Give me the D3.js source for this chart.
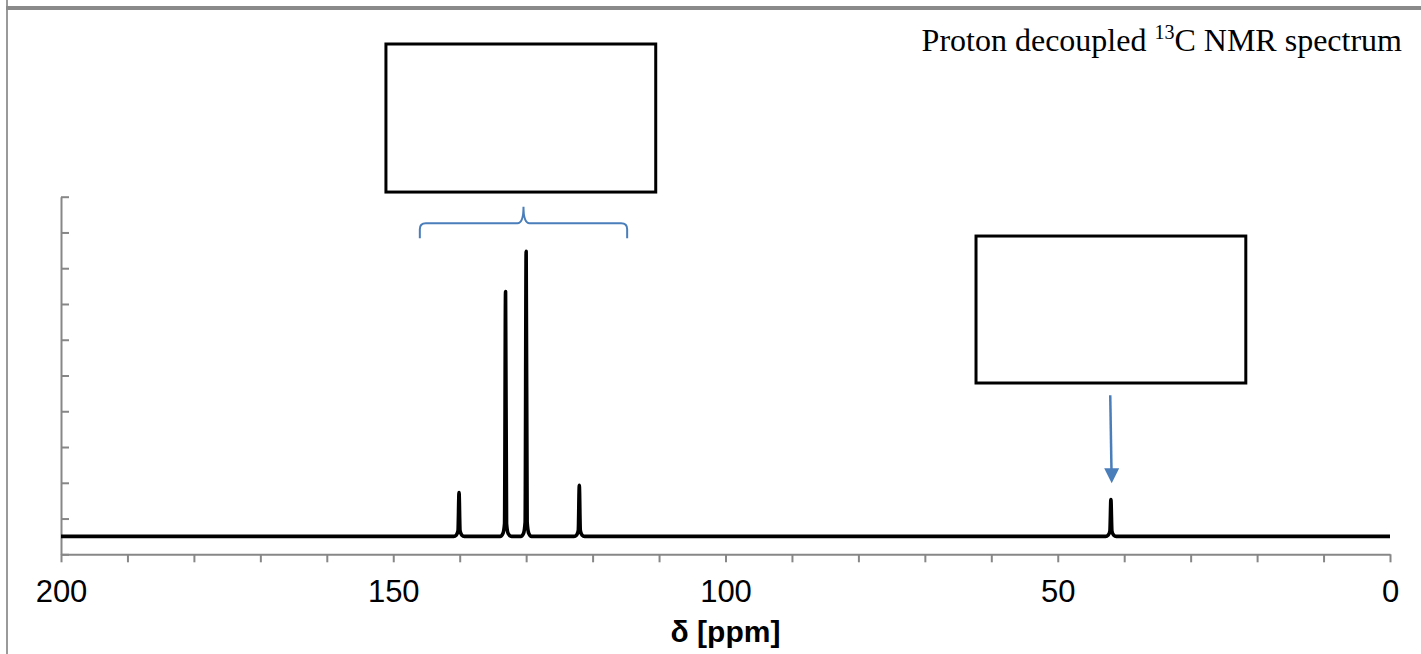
<!DOCTYPE html>
<html>
<head>
<meta charset="utf-8">
<script src="https://cdn.jsdelivr.net/npm/d3@7"></script>
<style>
  html, body { margin: 0; padding: 0; background: #fff; }
  svg { display: block; }
</style>
</head>
<body>
<svg id="chart" width="1421" height="654"></svg>
<script>
// ---- data ----
const shiftPpm = [200,
  140.9, 140.5, 140.25, 140.1, 139.95, 139.7, 139.3,
  133.9, 133.5, 133.25, 133.1, 132.95, 132.7, 132.2,
  130.8, 130.4, 130.15, 130.0, 129.85, 129.6, 129.2,
  122.8, 122.4, 122.15, 122.0, 121.85, 121.6, 121.2,
  42.8, 42.4, 42.15, 42.0, 41.85, 41.6, 41.2,
  0];
const intensity = [0.5,
  0.5, 0.54, 0.66, 1.73, 0.66, 0.54, 0.5,
  0.5, 0.58, 0.86, 7.35, 0.86, 0.58, 0.5,
  0.5, 0.58, 0.9, 8.47, 0.9, 0.58, 0.5,
  0.5, 0.54, 0.67, 1.93, 0.67, 0.54, 0.5,
  0.5, 0.54, 0.65, 1.53, 0.65, 0.54, 0.5,
  0.5];
const xTickValues = [200, 190, 180, 170, 160, 150, 140, 130, 120, 110, 100, 90, 80, 70, 60, 50, 40, 30, 20, 10, 0];
const xTickLabels = ["200", "150", "100", "50", "0"];
const yTickValues = [0, 1, 2, 3, 4, 5, 6, 7, 8, 9, 10];
const titleParts = ["Proton decoupled ", "13", "C NMR spectrum"];
const axisTitle = "δ [ppm]";

// ---- layout ----
const svg = d3.select("#chart");
const x = d3.scaleLinear().domain([200, 0]).range([61, 1390]);
const y = d3.scaleLinear().domain([0, 10]).range([554.3, 196.7]);
const gray = "#878787";
const blue = "#4a7ebb";

// frame lines
svg.append("rect").attr("x", 6).attr("y", 0).attr("width", 2).attr("height", 654).attr("fill", "#9a9a9a");
svg.append("rect").attr("x", 6).attr("y", 6).attr("width", 1415).attr("height", 4).attr("fill", "#8a8a8a");

// y axis (no labels, ticks inside)
const yAxis = svg.append("g").attr("transform", `translate(${x(200)},0)`)
  .call(d3.axisRight(y).tickValues(yTickValues).tickSize(8).tickSizeOuter(0).tickFormat(""));
yAxis.select(".domain").attr("stroke", gray).attr("stroke-width", 2);
yAxis.selectAll(".tick line").attr("stroke", gray).attr("stroke-width", 2);

// x axis
const xAxis = svg.append("g").attr("transform", `translate(0,${y(0)})`)
  .call(d3.axisBottom(x).tickValues(xTickValues).tickSize(8).tickSizeOuter(0).tickPadding(18)
    .tickFormat(d => xTickLabels.includes(String(d)) ? String(d) : ""));
xAxis.select(".domain").attr("stroke", gray).attr("stroke-width", 2);
xAxis.selectAll(".tick line").attr("stroke", gray).attr("stroke-width", 2);
xAxis.selectAll(".tick text")
  .attr("font-family", "'Liberation Sans', Arial, sans-serif")
  .attr("font-size", 31).attr("fill", "#000");

// axis title
svg.append("text")
  .attr("x", (x(200) + x(0)) / 2).attr("y", 642)
  .attr("text-anchor", "middle")
  .attr("font-family", "'Liberation Sans', Arial, sans-serif")
  .attr("font-weight", "bold").attr("font-size", 30).attr("fill", "#000")
  .text(axisTitle);

// spectrum
const pts = shiftPpm.map((s, i) => [s, intensity[i]]);
svg.append("path")
  .datum(pts)
  .attr("fill", "none").attr("stroke", "#000").attr("stroke-width", 3.6)
  .attr("stroke-linejoin", "round").attr("stroke-linecap", "butt")
  .attr("d", d3.line().x(d => x(d[0])).y(d => y(d[1])).curve(d3.curveMonotoneX));

// title
const t = svg.append("text")
  .attr("x", 1402).attr("y", 51).attr("text-anchor", "end")
  .attr("font-family", "'Liberation Serif', 'Times New Roman', serif")
  .attr("font-size", 32).attr("fill", "#000");
t.append("tspan").text(titleParts[0]);
t.append("tspan").attr("font-size", 20).attr("dy", -12).text(titleParts[1]);
t.append("tspan").attr("dy", 12).text(titleParts[2]);

// annotation boxes (in data coordinates)
const boxes = [[151.1, 110.5, 14.27, 10.13], [62.3, 21.7, 8.9, 4.79]];
svg.selectAll("rect.box").data(boxes).enter().append("rect").attr("class", "box")
  .attr("x", d => x(d[0])).attr("y", d => y(d[2]))
  .attr("width", d => x(d[1]) - x(d[0])).attr("height", d => y(d[3]) - y(d[2]))
  .attr("fill", "#fff").attr("stroke", "#000").attr("stroke-width", 3);

// bracket over aromatic peaks
const bL = x(146.0), bR = x(114.8), bC = x(130.4);
const bH = y(9.26), bE = y(8.84), bT = y(9.72);
svg.append("path")
  .attr("d", `M${bL},${bE} L${bL},${bH + 6} Q${bL},${bH} ${bL + 6},${bH} L${bC - 6},${bH} Q${bC},${bH} ${bC},${bT} Q${bC},${bH} ${bC + 6},${bH} L${bR - 6},${bH} Q${bR},${bH} ${bR},${bH + 6} L${bR},${bE}`)
  .attr("fill", "none").attr("stroke", blue).attr("stroke-width", 2);

// arrow to aliphatic peak
const ax1 = x(42.1), ay1 = y(4.45), ax2 = x(41.88), ay2 = y(1.99);
svg.append("line")
  .attr("x1", ax1).attr("y1", ay1).attr("x2", ax2 - 0.2).attr("y2", ay2 - 12)
  .attr("stroke", blue).attr("stroke-width", 2.5);
svg.append("path")
  .attr("d", `M${ax2 - 7.5},${ay2 - 15} L${ax2 + 7.5},${ay2 - 15} L${ax2},${ay2} Z`)
  .attr("fill", blue);
</script>
</body>
</html>
